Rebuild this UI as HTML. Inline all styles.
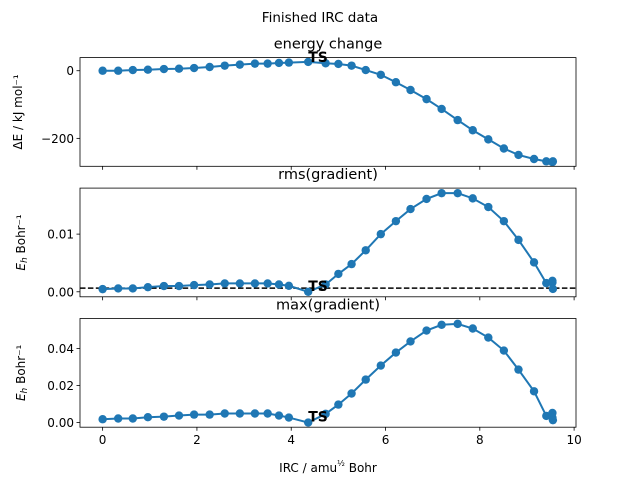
<!DOCTYPE html>
<html><head><meta charset="utf-8"><style>
body{margin:0;background:#fff;}
svg{display:block;font-family:"DejaVu Sans","Liberation Sans",sans-serif;}
</style></head><body>
<svg id="c" width="640" height="480"></svg>
<script>
const irc = [0,0.33,0.64,0.96,1.30,1.62,1.94,2.27,2.59,2.91,3.23,3.50,3.74,3.95,4.36,4.73,5.0,5.28,5.58,5.9,6.22,6.53,6.87,7.19,7.53,7.85,8.18,8.51,8.82,9.15,9.41,9.54,9.54,9.55];
const energy = [0,0,2,3,5,6,8,11,15,18,21,21,23,24,26,22,20,15,2,-12,-34,-57,-84,-113,-146,-176,-203,-230,-249,-261,-268,-270,-270,-268];
const rmsGrad = [0.00046,0.00058,0.00058,0.0008,0.001,0.001,0.00116,0.00127,0.00145,0.00145,0.00145,0.00145,0.00127,0.00104,0.0,0.00127,0.0031,0.0048,0.0072,0.010,0.01225,0.01434,0.0161,0.0171,0.0171,0.0162,0.0147,0.01225,0.009,0.0051,0.0015,0.0019,0.0016,0.0005];
const maxGrad = [0.0018,0.0022,0.0022,0.0029,0.0032,0.0038,0.0043,0.0043,0.0049,0.0049,0.0049,0.0049,0.0038,0.0027,0.0,0.0047,0.0097,0.0157,0.0232,0.0308,0.0378,0.0438,0.0497,0.0528,0.0533,0.0508,0.0459,0.0389,0.0286,0.0169,0.0036,0.0052,0.0027,0.0013];
const xTicks = [0,2,4,6,8,10];
const tsIndex = 14;
const rmsThreshold = 0.00064;
const panels = [
 {name:'energy', title:'energy change', vals:energy, ylim:[-282.6,38.8], ticks:[0,-200], labels:['0','\u2212200'], ylabel:'\u0394E / kJ mol\u207b\u00b9', top:57.6},
 {name:'rms', title:'rms(gradient)', vals:rmsGrad, ylim:[-0.00087,0.01798], ticks:[0,0.01], labels:['0.00','0.01'], ylabel:'Eh', top:188.1, thr:rmsThreshold},
 {name:'max', title:'max(gradient)', vals:maxGrad, ylim:[-0.0025,0.0562], ticks:[0,0.02,0.04], labels:['0.00','0.02','0.04'], ylabel:'Eh', top:318.5}
];
const NS='http://www.w3.org/2000/svg';
const svg=document.getElementById('c');
function mk(t,a,p){const e=document.createElementNS(NS,t);for(const k in a)e.setAttribute(k,a[k]);(p||svg).appendChild(e);return e;}
const L=80,R=576,H=108.7,xmin=-0.48,xmax=10.04;
const sx=v=>L+(v-xmin)/(xmax-xmin)*(R-L);
let t=mk('text',{x:320,y:22,'text-anchor':'middle','font-size':'13.5'});t.textContent='Finished IRC data';


panels.forEach((p,pi)=>{
 const g=mk('g',{});
 
 
 const T=p.top,B=T+H;
 const sy=v=>B-(v-p.ylim[0])/(p.ylim[1]-p.ylim[0])*H;
 let tt=mk('text',{x:328,y:T-9,'text-anchor':'middle','font-size':'14.5'},g);tt.textContent=p.title;
 
 
 // ticks
 xTicks.forEach(v=>{
  mk('line',{x1:sx(v),x2:sx(v),y1:B,y2:B+3.5,stroke:'#000','stroke-width':0.8},g);
  if(pi===2){const l=mk('text',{x:sx(v),y:B+17,'text-anchor':'middle','font-size':'12'},g);l.textContent=v;
   
   }
 });
 p.ticks.forEach((v,i)=>{
  mk('line',{x1:L-3.5,x2:L,y1:sy(v),y2:sy(v),stroke:'#000','stroke-width':0.8},g);
  const l=mk('text',{x:L-6,y:sy(v)+4.5,'text-anchor':'end','font-size':'12'},g);l.textContent=p.labels[i];
  
  
 });
 // ylabel
 const cy=T+H/2;
 const yl=mk('text',{transform:`translate(${p.name==='energy'?22:25},${cy}) rotate(-90)`,'text-anchor':'middle','font-size':'12'},g);
 
 
 if(p.name==='energy'){yl.textContent=p.ylabel;}
 else{const a=mk('tspan',{'font-style':'italic'},yl);a.textContent='E';const b=mk('tspan',{'font-style':'italic','font-size':'9',dy:'2'},yl);b.textContent='h';const c=mk('tspan',{dy:'-2'},yl);c.textContent=' Bohr\u207b\u00b9';}
 if(p.thr!==undefined){const d=mk('line',{x1:L,x2:R,y1:sy(p.thr),y2:sy(p.thr),stroke:'#000','stroke-width':1.5,'stroke-dasharray':'5.5,2.4'},g);
  
  }
 const pts=irc.map((x,i)=>sx(x)+','+sy(p.vals[i])).join(' ');
 const pl=mk('polyline',{points:pts,fill:'none',stroke:'#1f77b4','stroke-width':2},g);
 
 
 irc.forEach((x,i)=>{const c=mk('circle',{cx:sx(x),cy:sy(p.vals[i]),r:4.2,fill:'#1f77b4'},g);
  
  });
 const ts=mk('text',{x:sx(irc[tsIndex]),y:sy(p.vals[tsIndex])+(pi===0?-0:-1),'font-size':'14','font-weight':'bold'},g);ts.textContent='TS';
 
 
 const fr=mk('rect',{x:L,y:T,width:R-L,height:H,fill:'none',stroke:'#000','stroke-width':0.8},g);
 
 
});
const xl=mk('text',{x:328,y:472,'text-anchor':'middle','font-size':'12'});


xl.innerHTML='IRC / amu<tspan dy="-6" font-size="8">½</tspan><tspan dy="6"> Bohr</tspan>';
</script>
</body></html>
